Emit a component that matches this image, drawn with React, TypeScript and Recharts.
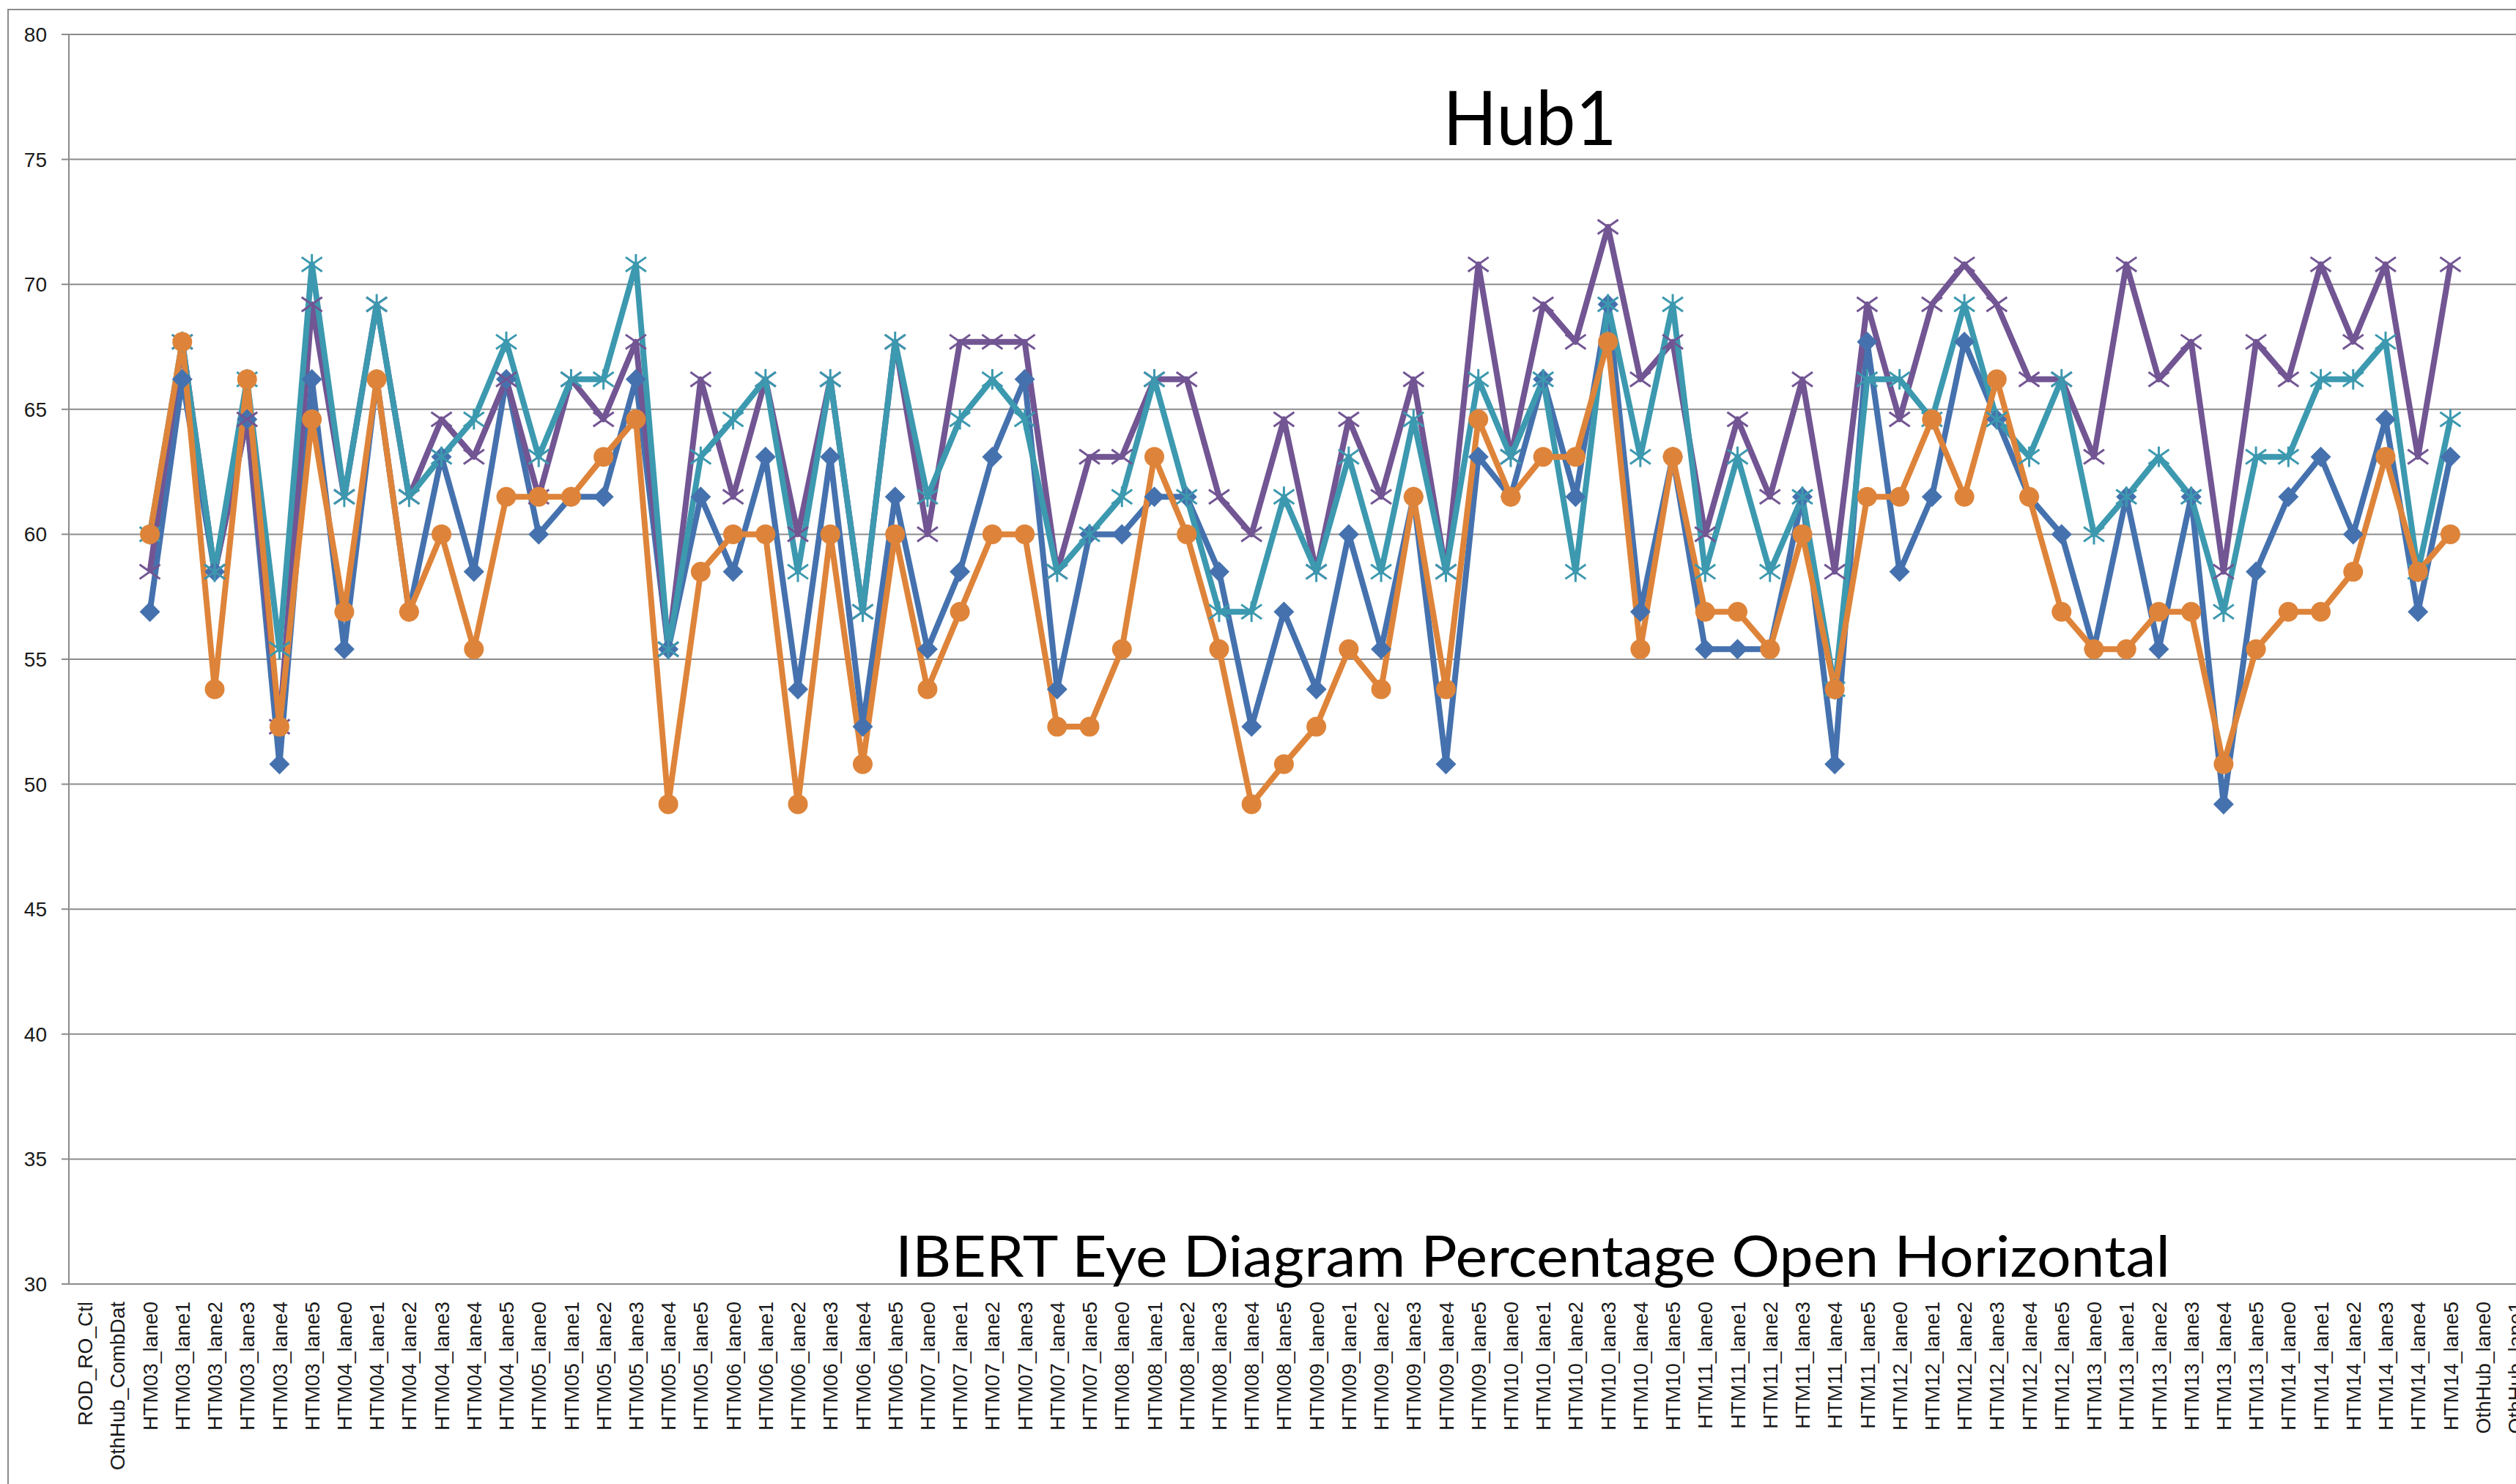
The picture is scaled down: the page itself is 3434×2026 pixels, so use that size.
import React from 'react'
import { LineChart, Line, XAxis, YAxis, CartesianGrid } from 'recharts'

// category axis: two leading slots, 12 hubs x 6 lanes, two trailing slots
const HUBS = ['HTM03', 'HTM04', 'HTM05', 'HTM06', 'HTM07', 'HTM08', 'HTM09', 'HTM10', 'HTM11', 'HTM12', 'HTM13', 'HTM14']
const LANES = ['lane0', 'lane1', 'lane2', 'lane3', 'lane4', 'lane5']
const LEAD = ['ROD_RO_Ctl', 'OthHub_CombDat']
const TRAIL = ['OthHub_lane0', 'OthHub_lane1']
const CATEGORIES = [...LEAD, ...HUBS.flatMap(h => LANES.map(l => `${h}_${l}`)), ...TRAIL]

const Y_TICKS = [30, 35, 40, 45, 50, 55, 60, 65, 70, 75, 80]

// one row per hub, lane0..lane5
const BLUE = [
  56.9, 66.2, 58.5, 64.6, 50.8, 66.2,
  55.4, 66.2, 56.9, 63.1, 58.5, 66.2,
  60.0, 61.5, 61.5, 66.2, 55.4, 61.5,
  58.5, 63.1, 53.8, 63.1, 52.3, 61.5,
  55.4, 58.5, 63.1, 66.2, 53.8, 60.0,
  60.0, 61.5, 61.5, 58.5, 52.3, 56.9,
  53.8, 60.0, 55.4, 61.5, 50.8, 63.1,
  61.5, 66.2, 61.5, 69.2, 56.9, 63.1,
  55.4, 55.4, 55.4, 61.5, 50.8, 67.7,
  58.5, 61.5, 67.7, 64.6, 61.5, 60.0,
  55.4, 61.5, 55.4, 61.5, 49.2, 58.5,
  61.5, 63.1, 60.0, 64.6, 56.9, 63.1,
]

const PURPLE = [
  58.5, 67.7, 58.5, 64.6, 52.3, 69.2,
  61.5, 69.2, 61.5, 64.6, 63.1, 66.2,
  61.5, 66.2, 64.6, 67.7, 55.4, 66.2,
  61.5, 66.2, 60.0, 66.2, 56.9, 67.7,
  60.0, 67.7, 67.7, 67.7, 58.5, 63.1,
  63.1, 66.2, 66.2, 61.5, 60.0, 64.6,
  58.5, 64.6, 61.5, 66.2, 58.5, 70.8,
  63.1, 69.2, 67.7, 72.3, 66.2, 67.7,
  60.0, 64.6, 61.5, 66.2, 58.5, 69.2,
  64.6, 69.2, 70.8, 69.2, 66.2, 66.2,
  63.1, 70.8, 66.2, 67.7, 58.5, 67.7,
  66.2, 70.8, 67.7, 70.8, 63.1, 70.8,
]

const TEAL = [
  60.0, 67.7, 58.5, 66.2, 55.4, 70.8,
  61.5, 69.2, 61.5, 63.1, 64.6, 67.7,
  63.1, 66.2, 66.2, 70.8, 55.4, 63.1,
  64.6, 66.2, 58.5, 66.2, 56.9, 67.7,
  61.5, 64.6, 66.2, 64.6, 58.5, 60.0,
  61.5, 66.2, 61.5, 56.9, 56.9, 61.5,
  58.5, 63.1, 58.5, 64.6, 58.5, 66.2,
  63.1, 66.2, 58.5, 69.2, 63.1, 69.2,
  58.5, 63.1, 58.5, 61.5, 53.8, 66.2,
  66.2, 64.6, 69.2, 64.6, 63.1, 66.2,
  60.0, 61.5, 63.1, 61.5, 56.9, 63.1,
  63.1, 66.2, 66.2, 67.7, 58.5, 64.6,
]

const ORANGE = [
  60.0, 67.7, 53.8, 66.2, 52.3, 64.6,
  56.9, 66.2, 56.9, 60.0, 55.4, 61.5,
  61.5, 61.5, 63.1, 64.6, 49.2, 58.5,
  60.0, 60.0, 49.2, 60.0, 50.8, 60.0,
  53.8, 56.9, 60.0, 60.0, 52.3, 52.3,
  55.4, 63.1, 60.0, 55.4, 49.2, 50.8,
  52.3, 55.4, 53.8, 61.5, 53.8, 64.6,
  61.5, 63.1, 63.1, 67.7, 55.4, 63.1,
  56.9, 56.9, 55.4, 60.0, 53.8, 61.5,
  61.5, 64.6, 61.5, 66.2, 61.5, 56.9,
  55.4, 55.4, 56.9, 56.9, 50.8, 55.4,
  56.9, 56.9, 58.5, 63.1, 58.5, 60.0,
]

const pad = (vals: number[]) => [...LEAD.map(() => null), ...vals, ...TRAIL.map(() => null)]

const data = CATEGORIES.map((name, idx) => ({
  idx,
  name,
  blue: pad(BLUE)[idx],
  purple: pad(PURPLE)[idx],
  teal: pad(TEAL)[idx],
  orange: pad(ORANGE)[idx],
}))

const GRID = '#8b8b8b'
const C_BLUE = '#4572ae'
const C_PURPLE = '#725593'
const C_TEAL = '#3c99af'
const C_ORANGE = '#de843a'

type Shape = 'diamond' | 'circle' | 'x' | 'star'

function makeDot(shape: Shape, color: string) {
  return (props: any) => {
    const { cx, cy, value, index } = props
    if (cx == null || cy == null || value == null) return <g key={`e${index}`} />
    if (shape === 'diamond') {
      const r = 14
      return (
        <polygon
          key={index}
          points={`${cx},${cy - r} ${cx + r},${cy} ${cx},${cy + r} ${cx - r},${cy}`}
          fill={color}
        />
      )
    }
    if (shape === 'circle') {
      return <circle key={index} cx={cx} cy={cy} r={13.5} fill={color} />
    }
    const s = 14
    return (
      <g key={index} stroke={color} strokeWidth={3}>
        <line x1={cx - s} y1={cy - s * 0.7} x2={cx + s} y2={cy + s * 0.7} />
        <line x1={cx - s} y1={cy + s * 0.7} x2={cx + s} y2={cy - s * 0.7} />
        {shape === 'star' && <line x1={cx} y1={cy - s} x2={cx} y2={cy + s} />}
      </g>
    )
  }
}

function CategoryTick({ x, y, payload }: any) {
  const label = CATEGORIES[payload.value]
  if (label === undefined) return null
  return (
    <g transform={`translate(${x},${y})`}>
      <text
        transform="rotate(-90)"
        textAnchor="end"
        dy="0.36em"
        fontSize={28}
        fontFamily="'Liberation Sans', Arial, sans-serif"
        fill="#1a1a1a"
      >
        {label}
      </text>
    </g>
  )
}

const lineProps = {
  xAxisId: 'cat',
  type: 'linear' as const,
  strokeWidth: 8,
  strokeLinejoin: 'round' as const,
  activeDot: false,
  connectNulls: false,
  isAnimationActive: false,
}

export default function App() {
  const boundaries = CATEGORIES.map((_, i) => i - 0.5).concat([CATEGORIES.length - 0.5])

  return (
    <div
      style={{
        position: 'absolute', left: 0, top: 0, width: 3434, height: 2026,
        overflow: 'hidden', background: '#fff',
      }}
    >
      <div
        style={{
          position: 'absolute', left: 10, top: 12, width: 3500, height: 2100,
          border: `2px solid ${GRID}`,
        }}
      />
      <div style={{ position: 'absolute', left: 0, top: 0 }}>
        <LineChart
          width={3475}
          height={2040}
          data={data}
          margin={{ top: 47, right: 20, left: 34, bottom: 25 }}
        >
          <CartesianGrid vertical={false} stroke={GRID} strokeWidth={2} />
          <XAxis
            xAxisId="bounds"
            type="number"
            dataKey="idx"
            domain={[-0.5, CATEGORIES.length - 0.5]}
            allowDataOverflow
            ticks={boundaries}
            interval={0}
            tick={false}
            tickSize={12}
            height={12}
            stroke={GRID}
            axisLine={{ stroke: GRID, strokeWidth: 2 }}
            tickLine={{ stroke: GRID, strokeWidth: 2 }}
          />
          <XAxis
            xAxisId="cat"
            type="number"
            dataKey="idx"
            domain={[-0.5, CATEGORIES.length - 0.5]}
            allowDataOverflow
            ticks={CATEGORIES.map((_, i) => i)}
            interval={0}
            tick={<CategoryTick />}
            tickSize={0}
            tickMargin={12}
            tickLine={false}
            axisLine={false}
            height={250}
          />
          <YAxis
            domain={[30, 80]}
            ticks={Y_TICKS}
            interval={0}
            width={60}
            tickSize={10}
            tickMargin={20}
            axisLine={{ stroke: GRID, strokeWidth: 2 }}
            tickLine={{ stroke: GRID, strokeWidth: 2 }}
            tick={{ fontSize: 28, fill: '#1a1a1a', fontFamily: "'Liberation Sans', Arial, sans-serif" }}
          />
          <Line {...lineProps} dataKey="blue" stroke={C_BLUE} dot={makeDot('diamond', C_BLUE)} />
          <Line {...lineProps} dataKey="purple" stroke={C_PURPLE} dot={makeDot('x', C_PURPLE)} />
          <Line {...lineProps} dataKey="teal" stroke={C_TEAL} dot={makeDot('star', C_TEAL)} />
          <Line {...lineProps} dataKey="orange" stroke={C_ORANGE} dot={makeDot('circle', C_ORANGE)} />
        </LineChart>
      </div>
      {/* titles sit inside the plot area like the Excel text boxes */}
      <svg
        width={3434}
        height={2026}
        style={{ position: 'absolute', left: 0, top: 0, pointerEvents: 'none' }}
      >
        <text
          x={2088}
          y={198}
          textAnchor="middle"
          fontSize={102}
          fontFamily="Lato, 'Open Sans', sans-serif"
          fill="#000"
          textLength={237}
          lengthAdjust="spacingAndGlyphs"
        >
          Hub1
        </text>
        <text
          x={2092}
          y={1743}
          textAnchor="middle"
          fontSize={77}
          fontFamily="Lato, 'Open Sans', sans-serif"
          fill="#000"
          textLength={1740}
          lengthAdjust="spacingAndGlyphs"
        >
          IBERT Eye Diagram Percentage Open Horizontal
        </text>
      </svg>
    </div>
  )
}
